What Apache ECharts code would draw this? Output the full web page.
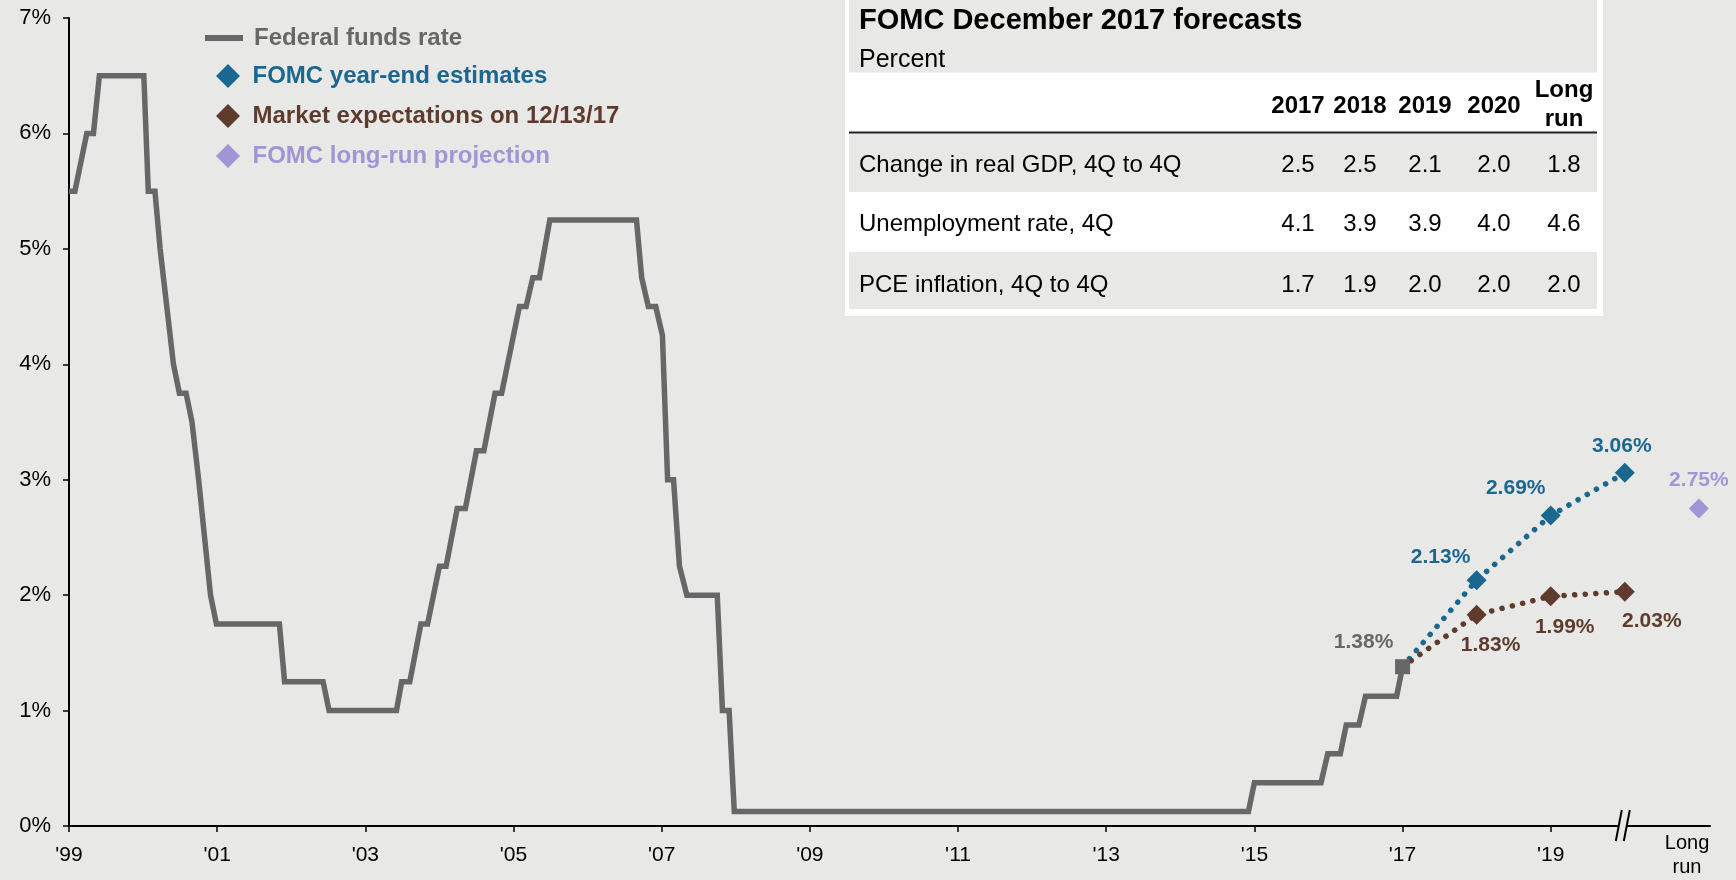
<!DOCTYPE html>
<html>
<head>
<meta charset="utf-8">
<title>Federal funds rate and FOMC forecasts</title>
<script src="https://cdn.jsdelivr.net/npm/echarts@6/dist/echarts.min.js"></script>
<style>
  html, body { margin: 0; padding: 0; background: #e8e8e6; }
  #main { width: 1736px; height: 880px; }
</style>
</head>
<body>
<div id="main"></div>
<script>
// 联邦基金利率 (x = chart year, '99 tick = 1999)
var ffrX = [
  1999.00, 1999.08, 1999.24, 1999.33, 1999.41, 2000.01, 2000.07, 2000.16, 2000.23, 2000.32,
  2000.41, 2000.49, 2000.58, 2000.66, 2000.75, 2000.83, 2000.91, 2000.99, 2001.84, 2001.91,
  2002.43, 2002.51, 2003.42, 2003.49, 2003.60, 2003.75, 2003.84, 2004.00, 2004.09, 2004.24,
  2004.35, 2004.50, 2004.60, 2004.75, 2004.84, 2005.08, 2005.17, 2005.26, 2005.35, 2005.49,
  2006.66, 2006.73, 2006.82, 2006.92, 2007.01, 2007.08, 2007.16, 2007.24, 2007.34, 2007.75,
  2007.82, 2007.91, 2007.98, 2014.92, 2015.00, 2015.90, 2015.99, 2016.16, 2016.24, 2016.41,
  2016.50, 2016.92, 2017.00
]
var ffrRate = [
  5.5, 5.5, 6.0, 6.0, 6.5, 6.5, 5.5, 5.5, 5.0, 4.5,
  4.0, 3.75, 3.75, 3.5, 3.0, 2.5, 2.0, 1.75, 1.75, 1.25,
  1.25, 1.0, 1.0, 1.25, 1.25, 1.75, 1.75, 2.25, 2.25, 2.75,
  2.75, 3.25, 3.25, 3.75, 3.75, 4.5, 4.5, 4.75, 4.75, 5.25,
  5.25, 4.75, 4.5, 4.5, 4.25, 3.0, 3.0, 2.25, 2.0, 2.0,
  1.0, 1.0, 0.125, 0.125, 0.375, 0.375, 0.625, 0.625, 0.875, 0.875,
  1.125, 1.125, 1.38
]
// 预测
var forecastYears = [2017, 2018, 2019, 2020]
var fomcEstimates = [1.38, 2.13, 2.69, 3.06]
var marketExpect = [1.38, 1.83, 1.99, 2.03]
var longRunX = 2021
var longRunValue = 2.75
// 坐标轴
var xTickYears = [1999, 2001, 2003, 2005, 2007, 2009, 2011, 2013, 2015, 2017, 2019]
var yTicks = [0, 1, 2, 3, 4, 5, 6, 7]
// 表格
var tableTitle = 'FOMC December 2017 forecasts'
var tableSubtitle = 'Percent'
var tableCols = ['2017', '2018', '2019', '2020', 'Long\nrun']
var tableRowNames = ['Change in real GDP, 4Q to 4Q', 'Unemployment rate, 4Q', 'PCE inflation, 4Q to 4Q']
var gdpRow = [2.5, 2.5, 2.1, 2.0, 1.8]
var unempRow = [4.1, 3.9, 3.9, 4.0, 4.6]
var pceRow = [1.7, 1.9, 2.0, 2.0, 2.0]

var FONT = '"Liberation Sans", Arial, sans-serif'
var BG = '#e8e8e6'
var GRAY = '#676767'
var BLUE = '#1a6790'
var BROWN = '#5e3b2c'
var LAVENDER = '#a295d6'

// 标签偏移 (相对于点中心)
var fomcOffsets = [null, [-36, -23], [-35, -27], [-3, -27]]
var marketOffsets = [null, [14, 30], [14, 31], [27, 30]]

function pctLabel(p) {
  return p.value[1].toFixed(2) + '%'
}

function labelStyle(color, offset) {
  return {
    show: true,
    position: 'inside',
    offset: offset,
    color: color,
    textBorderWidth: 0,
    textBorderColor: 'transparent',
    fontSize: 21,
    fontWeight: 'bold',
    fontFamily: FONT,
    formatter: pctLabel,
  }
}

function forecastData(values, offsets, color) {
  return values.map(function (v, i) {
    if (i === 0) {
      return { value: [forecastYears[i], v], symbol: 'none', label: { show: false } }
    }
    return { value: [forecastYears[i], v], label: labelStyle(color, offsets[i]) }
  })
}

// 表格图形
function buildTable() {
  var g = []
  var colX = [1298, 1360, 1425, 1494, 1564]
  var rowY = [165, 224.5, 285]
  var rows = [gdpRow, unempRow, pceRow]
  g.push({ type: 'rect', z: 50, shape: { x: 845, y: 0, width: 758, height: 316 }, style: { fill: '#ffffff' } })
  g.push({ type: 'rect', z: 51, shape: { x: 849, y: 0, width: 748, height: 72.5 }, style: { fill: BG } })
  g.push({ type: 'rect', z: 51, shape: { x: 849, y: 133, width: 748, height: 59 }, style: { fill: BG } })
  g.push({ type: 'rect', z: 51, shape: { x: 849, y: 252, width: 748, height: 57 }, style: { fill: BG } })
  g.push({ type: 'line', z: 52, shape: { x1: 849, y1: 132.5, x2: 1597, y2: 132.5 }, style: { stroke: '#222', lineWidth: 2 } })
  g.push({
    type: 'text', z: 53, x: 859, y: 21,
    style: { text: tableTitle, fontSize: 29, fontWeight: 'bold', fontFamily: FONT, fill: '#000', verticalAlign: 'middle' },
  })
  g.push({
    type: 'text', z: 53, x: 859, y: 60.5,
    style: { text: tableSubtitle, fontSize: 25, fontFamily: FONT, fill: '#000', verticalAlign: 'middle' },
  })
  tableCols.forEach(function (c, j) {
    g.push({
      type: 'text', z: 53, x: colX[j], y: c.indexOf('\n') >= 0 ? 104.5 : 106,
      style: {
        text: c, fontSize: 24, fontWeight: 'bold', fontFamily: FONT, fill: '#000',
        align: 'center', verticalAlign: 'middle', lineHeight: 29,
      },
    })
  })
  tableRowNames.forEach(function (name, i) {
    g.push({
      type: 'text', z: 53, x: 859, y: rowY[i],
      style: { text: name, fontSize: 24, fontFamily: FONT, fill: '#000', verticalAlign: 'middle' },
    })
    rows[i].forEach(function (v, j) {
      g.push({
        type: 'text', z: 53, x: colX[j], y: rowY[i],
        style: { text: v.toFixed(1), fontSize: 24, fontFamily: FONT, fill: '#000', align: 'center', verticalAlign: 'middle' },
      })
    })
  })
  return g
}

var option = {
  backgroundColor: BG,
  animation: false,
  grid: { left: 69, right: 26, top: 18, bottom: 54, containLabel: false },
  legend: [
    {
      left: 200,
      top: 21,
      orient: 'vertical',
      selectedMode: false,
      itemWidth: 38,
      itemHeight: 6,
      textStyle: { fontSize: 24, fontWeight: 'bold', fontFamily: FONT, padding: [0, 0, 0, 6] },
      data: [{ name: 'Federal funds rate', icon: 'rect', textStyle: { color: GRAY } }],
    },
    {
      left: 211,
      top: 59,
      orient: 'vertical',
      selectedMode: false,
      itemWidth: 24,
      itemHeight: 24,
      itemGap: 16,
      itemStyle: { opacity: 1 },
      textStyle: { fontSize: 24, fontWeight: 'bold', fontFamily: FONT, padding: [0, 0, 0, 7.5] },
      data: [
        { name: 'FOMC year-end estimates', icon: 'diamond', textStyle: { color: BLUE } },
        { name: 'Market expectations on 12/13/17', icon: 'diamond', textStyle: { color: BROWN } },
        { name: 'FOMC long-run projection', icon: 'diamond', textStyle: { color: LAVENDER } },
      ],
    },
  ],
  xAxis: [
    {
      type: 'value',
      min: 1999,
      max: 2021.15,
      axisLine: { lineStyle: { color: '#000', width: 2 } },
      axisTick: { show: true, length: 6, customValues: xTickYears, lineStyle: { color: '#000', width: 1.5 } },
      axisLabel: {
        customValues: xTickYears,
        margin: 19,
        color: '#000',
        fontSize: 21,
        fontFamily: FONT,
        formatter: function (v) {
          return "'" + String(v).slice(2)
        },
      },
      splitLine: { show: false },
    },
    {
      // Long run 标签
      type: 'value',
      min: 1999,
      max: 2021.15,
      position: 'bottom',
      axisLine: { show: false },
      axisTick: { show: false },
      axisLabel: {
        customValues: [2020.84],
        margin: 6,
        color: '#000',
        fontSize: 20,
        lineHeight: 23.5,
        fontFamily: FONT,
        formatter: function () {
          return 'Long\nrun'
        },
      },
      splitLine: { show: false },
    },
  ],
  yAxis: {
    type: 'value',
    min: 0,
    max: 7,
    interval: 1,
    axisLine: { show: true, lineStyle: { color: '#000', width: 2 } },
    axisTick: { show: true, length: 6, lineStyle: { color: '#000', width: 1.5 } },
    axisLabel: {
      margin: 18,
      color: '#000',
      fontSize: 22,
      fontFamily: FONT,
      formatter: function (v) {
        return yTicks.indexOf(v) >= 0 ? v + '%' : ''
      },
    },
    splitLine: { show: false },
  },
  series: [
    {
      name: 'Federal funds rate',
      type: 'line',
      symbol: 'none',
      silent: true,
      color: GRAY,
      lineStyle: { color: GRAY, width: 5.5, join: 'miter' },
      data: ffrX.map(function (x, i) {
        return [x, ffrRate[i]]
      }),
      z: 3,
    },
    {
      name: 'FOMC year-end estimates',
      type: 'line',
      symbol: 'diamond',
      symbolSize: 20,
      color: BLUE,
      itemStyle: { color: BLUE },
      lineStyle: { color: BLUE, width: 5.5, type: [0.1, 10.5], cap: 'round' },
      data: forecastData(fomcEstimates, fomcOffsets, BLUE),
      z: 4,
    },
    {
      name: 'Market expectations on 12/13/17',
      type: 'line',
      symbol: 'diamond',
      symbolSize: 20,
      color: BROWN,
      itemStyle: { color: BROWN },
      lineStyle: { color: BROWN, width: 5.5, type: [0.1, 10.5], cap: 'round' },
      data: forecastData(marketExpect, marketOffsets, BROWN),
      z: 4,
    },
    {
      name: 'FOMC long-run projection',
      type: 'scatter',
      symbol: 'diamond',
      symbolSize: 20,
      color: LAVENDER,
      itemStyle: { color: LAVENDER, opacity: 1 },
      label: labelStyle(LAVENDER, [0, -28]),
      data: [[longRunX, longRunValue]],
      z: 5,
    },
    {
      name: 'ffrLast',
      type: 'scatter',
      symbol: 'rect',
      symbolSize: 15,
      itemStyle: { color: GRAY, opacity: 1 },
      label: labelStyle(GRAY, [-39, -25]),
      data: [[forecastYears[0], fomcEstimates[0]]],
      z: 6,
    },
  ],
  graphic: buildTable(),
}

var myChart = echarts.init(document.getElementById('main'), null, { renderer: 'canvas' })
myChart.setOption(option, true)

// 坐标轴断开符号 //
var bp = myChart.convertToPixel({ xAxisIndex: 0, yAxisIndex: 0 }, [2020, 0])
var bx = bp[0] - 2
var by = bp[1]
myChart.setOption({
  graphic: buildTable().concat([
    {
      type: 'polygon', z: 60,
      shape: { points: [[bx - 7, by + 15], [bx + 1, by + 15], [bx + 7, by - 16], [bx - 1, by - 16]] },
      style: { fill: BG },
    },
    { type: 'line', z: 61, shape: { x1: bx - 7, y1: by + 15, x2: bx - 1, y2: by - 16 }, style: { stroke: '#000', lineWidth: 2 } },
    { type: 'line', z: 61, shape: { x1: bx + 1, y1: by + 15, x2: bx + 7, y2: by - 16 }, style: { stroke: '#000', lineWidth: 2 } },
  ]),
})
</script>
</body>
</html>
